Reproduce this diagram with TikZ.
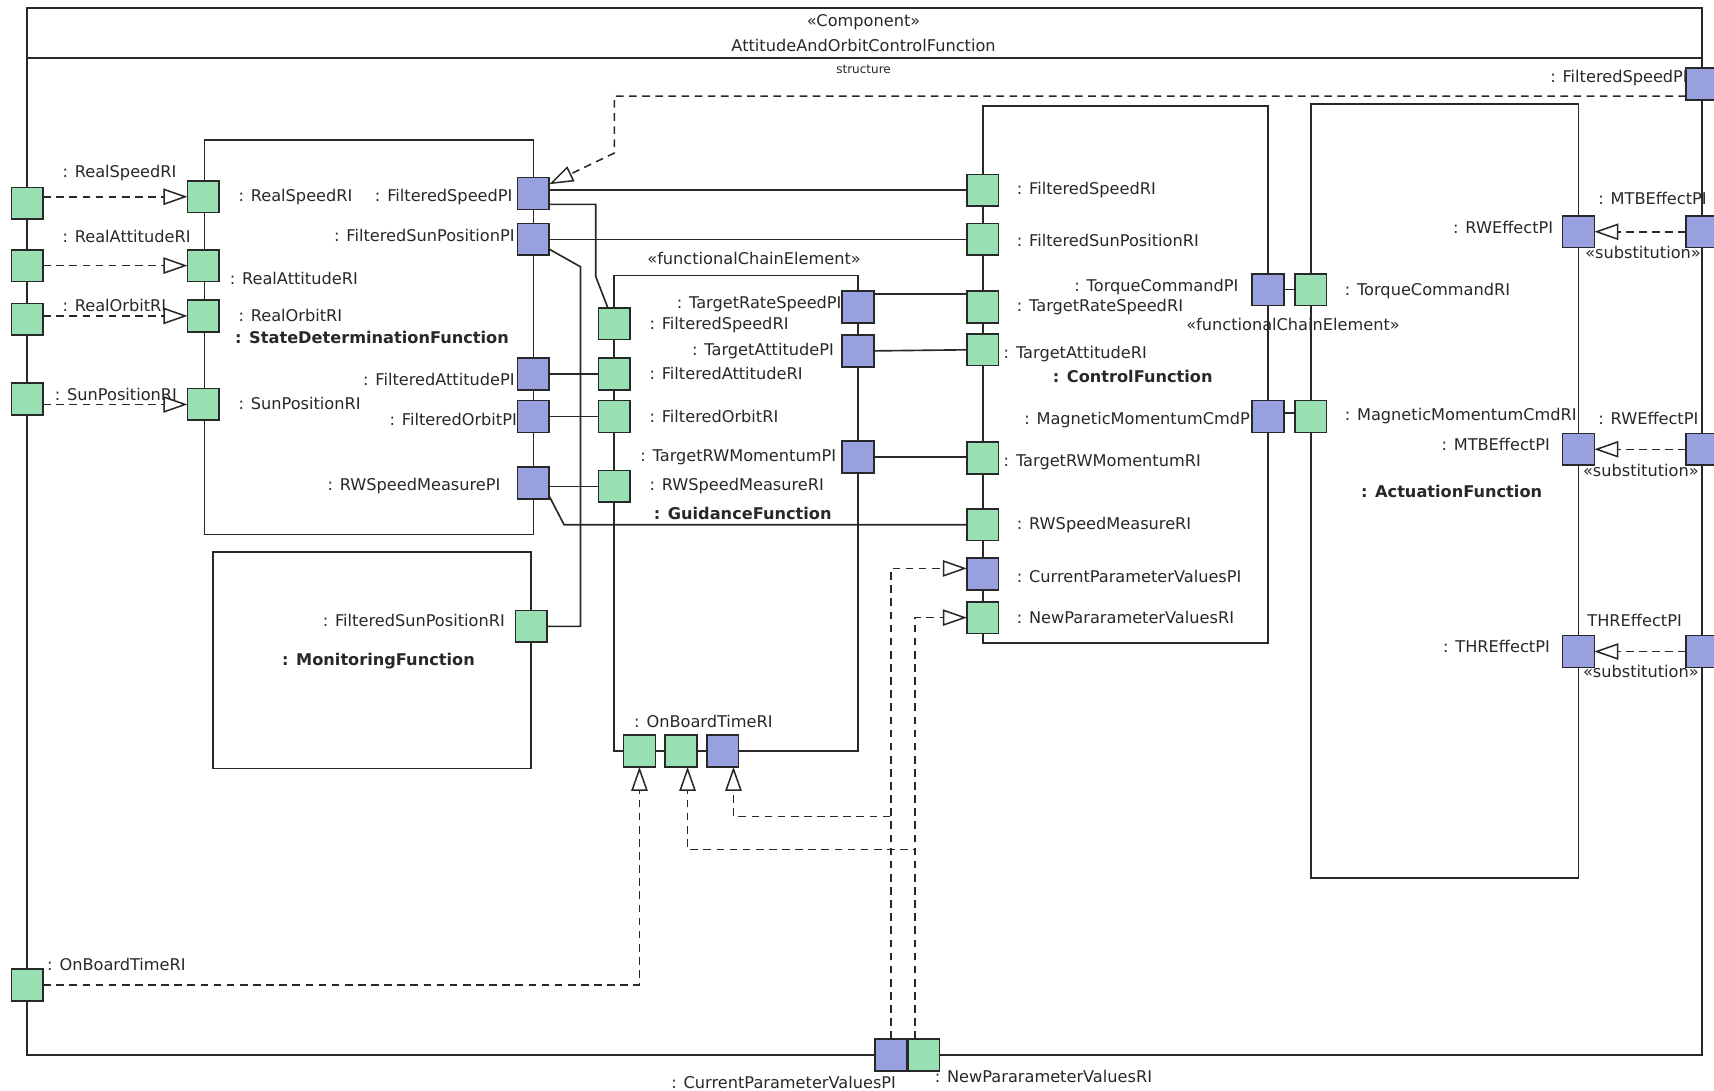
\documentclass[tikz,border=0pt]{standalone}
\usepackage{fontspec}
\setmainfont{DejaVu Sans}
\usetikzlibrary{arrows.meta}
\definecolor{pgreen}{RGB}{152,224,180}
\definecolor{pblue}{RGB}{152,160,224}
\definecolor{ink}{RGB}{40,40,40}
\newcommand\lblsize{\fontsize{14.8}{17}\selectfont}
\tikzset{
  port/.style={draw=ink, line width=1.5pt, minimum width=29pt, minimum height=29pt, inner sep=0pt, outer sep=0pt},
  rport/.style={port, fill=pgreen},
  pport/.style={port, fill=pblue},
  part/.style={draw=ink, line width=1.6pt},
  link/.style={draw=ink, line width=1.5pt},
  real/.style={draw=ink, line width=1.4pt, dash pattern=on 7pt off 5pt,
    -{Triangle[open, length=22pt, width=15pt, fill=white]}},
  lbl/.style={font=\lblsize, text=ink, inner sep=0pt},
  lw/.style={lbl, anchor=west},
  le/.style={lbl, anchor=east},
  partname/.style={lbl, font=\lblsize\bfseries, anchor=west},
}
\begin{document}
\begin{tikzpicture}[x=1pt,y=-1pt]
\useasboundingbox (0,0) rectangle (1568,998);
\fill[white] (0,0) rectangle (1568,998);

% component frame
\draw[part, line width=1.8pt] (25,7) rectangle (1557,965);
\draw[part, line width=1.8pt] (25,53) -- (1557,53);
\node[lbl] (stereo) at (790,20) {«Component»};
\node[lbl] (cname) at (790,42) {AttitudeAndOrbitControlFunction};
\node[lbl, font=\fontsize{11}{13}\selectfont] (diag) at (790,63) {structure};

% parts
\draw[part] (187,128) rectangle (488,489);   % StateDetermination
\draw[part] (195,505) rectangle (486,703);   % Monitoring
\draw[part] (562,252) rectangle (785,687);   % Guidance
\draw[part] (899,97) rectangle (1160,588);   % Control
\draw[part] (1199,95) rectangle (1444,803);  % Actuation

% outer ports
\node[rport] (oRS)  at (25,186) {};
\node[rport] (oRA)  at (25,243) {};
\node[rport] (oRO)  at (25,292) {};
\node[rport] (oSP)  at (25,365) {};
\node[rport] (oOBT) at (25,901) {};
\node[pport] (oFS)  at (1557,77) {};
\node[pport] (oMTB) at (1557,212) {};
\node[pport] (oRWE) at (1557,411) {};
\node[pport] (oTHR) at (1557,596) {};
\node[pport] (oCPV) at (815,965) {};
\node[rport] (oNPV) at (845,965) {};

% StateDeterminationFunction ports
\node[rport] (sRS)  at (186,180) {};
\node[rport] (sRA)  at (186,243) {};
\node[rport] (sRO)  at (186,289) {};
\node[rport] (sSP)  at (186,370) {};
\node[pport] (sFS)  at (488,177) {};
\node[pport] (sFSP) at (488,219) {};
\node[pport] (sFA)  at (488,342) {};
\node[pport] (sFO)  at (488,381) {};
\node[pport] (sRW)  at (488,442) {};

% MonitoringFunction port
\node[rport] (mFSP) at (486,573) {};

% GuidanceFunction ports
\node[rport] (gFS)   at (562,296) {};
\node[rport] (gFA)   at (562,342) {};
\node[rport] (gFO)   at (562,381) {};
\node[rport] (gRW)   at (562,445) {};
\node[pport] (gTRS)  at (785,281) {};
\node[pport] (gTA)   at (785,321) {};
\node[pport] (gTRW)  at (785,418) {};
\node[rport] (gOBT1) at (585,687) {};
\node[rport] (gOBT2) at (623,687) {};
\node[pport] (gOBT3) at (661,687) {};

% ControlFunction ports
\node[rport] (cFS)  at (899,174) {};
\node[rport] (cFSP) at (899,219) {};
\node[rport] (cTRS) at (899,281) {};
\node[rport] (cTA)  at (899,320) {};
\node[rport] (cTRW) at (899,419) {};
\node[rport] (cRW)  at (899,480) {};
\node[pport] (cCPV) at (899,525) {};
\node[rport] (cNPV) at (899,565) {};
\node[pport] (cTC)  at (1160,265) {};
\node[pport] (cMM)  at (1160,381) {};

% ActuationFunction ports
\node[rport] (aTC)  at (1199,265) {};
\node[rport] (aMM)  at (1199,381) {};
\node[pport] (aRW)  at (1444,212) {};
\node[pport] (aMTB) at (1444,411) {};
\node[pport] (aTHR) at (1444,596) {};

% bend points
\coordinate (fsA) at (562,88);
\coordinate (fsB) at (562,140);
\coordinate (c2)  at (545,253);
\coordinate (c4)  at (531,244);
\coordinate (c8)  at (516,480);
\coordinate (k2)  at (629,777);
\coordinate (k3)  at (671,747);

% delegations from the component boundary
\draw[real] (oRS.east |- sRS.west) -- (sRS.west);
\draw[real] (oRA.east |- sRA.west) -- (sRA.west);
\draw[real] (oRO.east |- sRO.west) -- (sRO.west);
\draw[real] (oSP.east |- sSP.west) -- (sSP.west);
\draw[real] (oOBT.east) -| (gOBT1.south);
\draw[real] ([yshift=-11pt]oFS.west) -- (fsA) -- (fsB) -- ([yshift=-6pt]sFS.north east);
\draw[real] (oCPV.north) |- ([yshift=5pt]cCPV.west);
\draw[real] (oCPV.north) |- (k3) -- ([xshift=10pt]gOBT3.south);
\draw[real] ([xshift=-8pt]oNPV.north) |- (cNPV.west);
\draw[real] ([xshift=-8pt]oNPV.north) |- (k2) -- ([xshift=6pt]gOBT2.south);
\draw[real] (oMTB.west) -- (aRW.east);
\draw[real] (oRWE.west) -- (aMTB.east);
\draw[real] (oTHR.west) -- (aTHR.east);

% assembly connectors
\draw[link] (sFS.east |- cFS.west) -- (cFS.west);
\draw[link] ([yshift=-10pt]sFS.east) -| (c2) -- ([xshift=-6pt]gFS.north);
\draw[link] (sFSP.east) -- (cFSP.west);
\draw[link] ([yshift=-9pt]sFSP.east) -- (c4) |- (mFSP.east);
\draw[link] (sFA.east) -- (gFA.west);
\draw[link] (sFO.east) -- (gFO.west);
\draw[link] (sRW.east |- gRW.west) -- (gRW.west);
\draw[link] ([yshift=-12pt]sRW.east) -- (c8) -- (cRW.west);
\draw[link] ([yshift=12pt]gTRS.east) -- ([yshift=12pt]cTRS.west);
\draw[link] (gTA.east) -- (cTA.west);
\draw[link] (gTRW.east) -- (cTRW.west |- gTRW.east);
\draw[link] (cTC.east) -- (aTC.west);
\draw[link] ([yshift=3pt]cMM.east) -- ([yshift=3pt]aMM.west);

% boundary port labels
\node[lw] at (57,158) {: RealSpeedRI};
\node[lw] at (57,216) {: RealAttitudeRI};
\node[lw] at (57,279) {: RealOrbitRI};
\node[lw] at (50,361) {: SunPositionRI};
\node[lw] at (43,882) {: OnBoardTimeRI};
\node[lw] at (1418,71) {: FilteredSpeedPI};
\node[lw] at (1462,182) {: MTBEffectPI};
\node[lw] at (1462,383) {: RWEffectPI};
\node[lw] at (1452,568) {THREffectPI};
\node[lw] at (614,990) {: CurrentParameterValuesPI};
\node[lw] at (855,985) {: NewPararameterValuesRI};
\node[lw] at (1450,231) {«substitution»};
\node[lw] at (1448,430) {«substitution»};
\node[lw] at (1448,614) {«substitution»};

% StateDeterminationFunction
\node[lw] at (218,180) {: RealSpeedRI};
\node[lw] at (210,255) {: RealAttitudeRI};
\node[lw] at (218,289) {: RealOrbitRI};
\node[lw] at (218,369) {: SunPositionRI};
\node[partname] at (215,309) {: StateDeterminationFunction};
\node[le] at (469,180) {: FilteredSpeedPI};
\node[le] at (471,215) {: FilteredSunPositionPI};
\node[le] at (471,347) {: FilteredAttitudePI};
\node[le] at (473,384) {: FilteredOrbitPI};
\node[le] at (458,445) {: RWSpeedMeasurePI};

% MonitoringFunction
\node[le] at (462,568) {: FilteredSunPositionRI};
\node[partname] at (258,605) {: MonitoringFunction};

% GuidanceFunction
\node[lw] at (592,236) {«functionalChainElement»};
\node[le] at (770,278) {: TargetRateSpeedPI};
\node[lw] at (594,297) {: FilteredSpeedRI};
\node[le] at (763,321) {: TargetAttitudePI};
\node[lw] at (594,342) {: FilteredAttitudeRI};
\node[lw] at (594,381) {: FilteredOrbitRI};
\node[le] at (765,418) {: TargetRWMomentumPI};
\node[lw] at (594,445) {: RWSpeedMeasureRI};
\node[partname] at (598,470) {: GuidanceFunction};
\node[lw] at (580,660) {: OnBoardTimeRI};

% ControlFunction
\node[lw] at (930,174) {: FilteredSpeedRI};
\node[lw] at (930,220) {: FilteredSunPositionRI};
\node[le] at (1133,263) {: TorqueCommandPI};
\node[lw] at (930,281) {: TargetRateSpeedRI};
\node[lw] at (918,324) {: TargetAttitudeRI};
\node[partname] at (963,344) {: ControlFunction};
\node[le] at (1148,384) {: MagneticMomentumCmdPI};
\node[lw] at (918,423) {: TargetRWMomentumRI};
\node[lw] at (930,480) {: RWSpeedMeasureRI};
\node[lw] at (930,527) {: CurrentParameterValuesPI};
\node[lw] at (930,565) {: NewPararameterValuesRI};

% ActuationFunction
\node[lw] at (1085,297) {«functionalChainElement»};
\node[lw] at (1230,266) {: TorqueCommandRI};
\node[lw] at (1230,381) {: MagneticMomentumCmdRI};
\node[le] at (1421,208) {: RWEffectPI};
\node[le] at (1418,407) {: MTBEffectPI};
\node[le] at (1418,591) {: THREffectPI};
\node[partname] at (1245,450) {: ActuationFunction};
\end{tikzpicture}
\end{document}
